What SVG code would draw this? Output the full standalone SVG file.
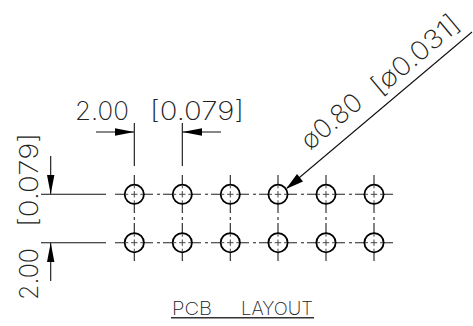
<svg xmlns="http://www.w3.org/2000/svg" width="473" height="326" viewBox="0 0 473 326">
<style>
.t{font-family:"Inter","Liberation Sans",Arial,sans-serif;font-weight:200;fill:#222}
.d{stroke:#111;stroke-width:1.100;fill:none}
.h{stroke:#000;stroke-width:1.800;fill:#fff}
.x{stroke:#444;stroke-width:1;fill:none}
.a{fill:#000;stroke:none}
.ctr{stroke:#222;stroke-width:1.100;stroke-dasharray:38 4 3 3;fill:none}
</style>
<defs>
<g id="hole"><circle class="h" r="9.600"/><path class="x" d="M-9 0H-6M-3.200 0H3.200M6 0H9M0 -9V-6M0 -3.200V3.200M0 6V9"/></g>
</defs>
<rect width="473" height="326" fill="#fff"/>
<g id="connectors">
<path class="ctr" d="M115 194.300H395M115 242.700H395"/>
<path class="ctr" d="M134.300 175V263M182.300 175V263M230.300 175V263M278 175V263M326 175V263M374 175V263"/>
<path class="d" d="M134.300 123V166M182.300 123V166M96 132H134.300M182.300 132H221M41 194.300H106M41 242.700H106M50.700 156V194.300M50.700 242.700V281M287 188L472 32"/>
<path class="a" d="M134.300 132L115 128.200V135.800ZM182.300 132L202 128.200V135.800ZM50.700 194.300L47 175H54.400ZM50.700 242.700L47 262H54.400ZM286 189L297 174L303 181.500Z"/>
<path class="d" d="M171 317.700H314" style="stroke:#333;stroke-width:1.500"/>
</g>
<g id="holes">
<use href="#hole" x="134.300" y="194.300"/><use href="#hole" x="182.300" y="194.300"/><use href="#hole" x="230.300" y="194.300"/><use href="#hole" x="278" y="194.300"/><use href="#hole" x="326" y="194.300"/><use href="#hole" x="374" y="194.300"/>
<use href="#hole" x="134.300" y="242.700"/><use href="#hole" x="182.300" y="242.700"/><use href="#hole" x="230.300" y="242.700"/><use href="#hole" x="278" y="242.700"/><use href="#hole" x="326" y="242.700"/><use href="#hole" x="374" y="242.700"/>
</g>
<g id="labels">
<text class="t" x="75" y="120" font-size="26" textLength="54" lengthAdjust="spacingAndGlyphs">2.00</text>
<text class="t" x="150" y="120" font-size="26" textLength="94" lengthAdjust="spacingAndGlyphs">[0.079]</text>
<text class="t" transform="translate(38 300) rotate(-90)" font-size="26" textLength="52" lengthAdjust="spacingAndGlyphs">2.00</text>
<text class="t" transform="translate(38 227) rotate(-90)" font-size="26" textLength="94" lengthAdjust="spacingAndGlyphs">[0.079]</text>
<text class="t" transform="translate(310 151) rotate(-40)" font-size="26" textLength="71" lengthAdjust="spacingAndGlyphs">ø0.80</text>
<text class="t" transform="translate(380 96) rotate(-40)" font-size="26" textLength="107" lengthAdjust="spacingAndGlyphs">[ø0.031]</text>
<text class="t" x="172" y="315" font-size="18" textLength="40" lengthAdjust="spacingAndGlyphs">PCB</text>
<text class="t" x="241" y="315" font-size="18" textLength="72" lengthAdjust="spacingAndGlyphs">LAYOUT</text>
</g>
</svg>
